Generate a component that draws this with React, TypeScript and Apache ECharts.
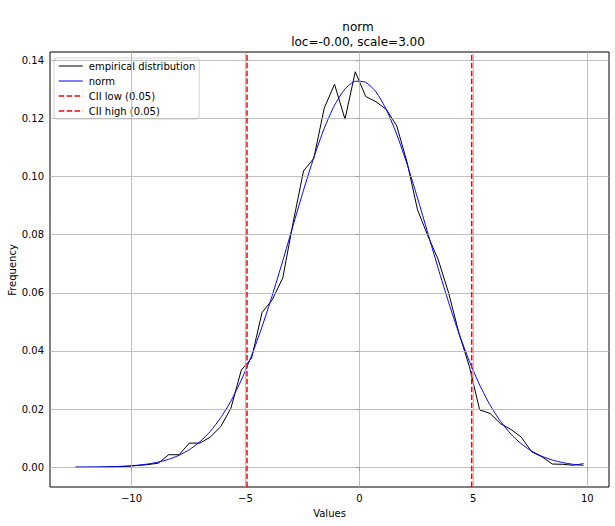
import { useEffect, useRef } from 'react';
import * as echarts from 'echarts';

// Histogram bin centres (x)
const binCenters = [
  -12.46, -12.01, -11.55, -11.1, -10.64, -10.19, -9.73, -9.28, -8.82, -8.37,
  -7.91, -7.46, -7.0, -6.55, -6.09, -5.64, -5.18, -4.73, -4.27, -3.82,
  -3.36, -2.91, -2.45, -2.0, -1.54, -1.09, -0.63, -0.18, 0.28, 0.73,
  1.19, 1.64, 2.1, 2.55, 3.01, 3.46, 3.92, 4.37, 4.83, 5.28,
  5.74, 6.19, 6.65, 7.1, 7.56, 8.01, 8.47, 8.92, 9.38, 9.84,
];

// Empirical distribution (black line)
const empirical = [
  0.0, 0.0, 0.0, 0.0001, 0.0002, 0.0003, 0.0006, 0.0009, 0.0014, 0.0043,
  0.0043, 0.0083, 0.0083, 0.0103, 0.0139, 0.0202, 0.0334, 0.0375, 0.0532, 0.0576,
  0.0651, 0.084, 0.1019, 0.1062, 0.1235, 0.1317, 0.1197, 0.136, 0.1275, 0.1257,
  0.123, 0.1174, 0.1047, 0.0886, 0.0795, 0.0714, 0.0599, 0.0461, 0.0346, 0.0197,
  0.0185, 0.015, 0.013, 0.0104, 0.0053, 0.0036, 0.0011, 0.001, 0.0007, 0.0012,
];

// Fitted normal curve (blue line), read at the same x values
const normCurve = [
  0.00002, 0.00004, 0.00008, 0.00014, 0.00025, 0.00042, 0.00069, 0.00111, 0.00177, 0.00271,
  0.00411, 0.00604, 0.00874, 0.01226, 0.01694, 0.02271, 0.02995, 0.03837, 0.0483, 0.05912,
  0.07102, 0.08307, 0.09527, 0.10648, 0.11656, 0.12449, 0.13008, 0.13274, 0.1324, 0.1291,
  0.1229, 0.1145, 0.1041, 0.09266, 0.08039, 0.06838, 0.05662, 0.04603, 0.03638, 0.02826,
  0.02133, 0.01582, 0.0114, 0.00808, 0.00556, 0.00376, 0.00247, 0.0016, 0.001, 0.00061,
];

const ciiLow = -4.93;
const ciiHigh = 4.93;

const xTicks = [-10, -5, 0, 5, 10];
const yTicks = [0, 0.02, 0.04, 0.06, 0.08, 0.1, 0.12, 0.14];

const xMin = -13.575;
const xMax = 10.955;
const yMin = -0.0068;
const yMax = 0.1428;

const FONT = 'DejaVu Sans';

export default function App() {
  const ref = useRef<HTMLDivElement>(null);

  useEffect(() => {
    document.body.style.margin = '0';
    document.body.style.background = '#ffffff';
    if (!ref.current) return;
    const chart = echarts.init(ref.current, undefined, { renderer: 'svg' });

    const fmtX = (v: number) => (v < 0 ? '\u2212' + Math.abs(v) : String(v));

    const option: any = {
      animation: false,
      backgroundColor: '#ffffff',
      textStyle: { fontFamily: FONT, color: '#000' },
      grid: {
        left: 50,
        right: 6,
        top: 52,
        bottom: 39,
        containLabel: false,
        outerBoundsMode: 'none',
        show: true,
        borderColor: '#000',
        borderWidth: 1,
        backgroundColor: 'transparent',
      },
      graphic: [
        {
          type: 'text',
          x: 358,
          y: 27,
          style: {
            text: 'norm',
            fontFamily: FONT,
            fontSize: 12,
            fill: '#000',
            textAlign: 'center',
            textVerticalAlign: 'middle',
          },
        },
        {
          type: 'text',
          x: 358,
          y: 42,
          style: {
            text: 'loc=-0.00, scale=3.00',
            fontFamily: FONT,
            fontSize: 12,
            fill: '#000',
            textAlign: 'center',
            textVerticalAlign: 'middle',
          },
        },
        {
          type: 'text',
          x: 12,
          y: 270,
          rotation: Math.PI / 2,
          style: {
            text: 'Frequency',
            fontFamily: FONT,
            fontSize: 10,
            fill: '#000',
            textAlign: 'center',
            textVerticalAlign: 'middle',
          },
        },
      ],
      legend: {
        data: [
          { name: 'empirical distribution', lineStyle: { width: 1 } },
          { name: 'norm', lineStyle: { width: 1 } },
          { name: 'CII low (0.05)', lineStyle: { width: 1.5 } },
          { name: 'CII high (0.05)', lineStyle: { width: 1.5 } },
        ],
        orient: 'vertical',
        left: 54,
        top: 58,
        itemWidth: 24,
        itemHeight: 10,
        itemGap: 5,
        padding: [3, 4, 3, 4],
        backgroundColor: 'rgba(255,255,255,0.85)',
        borderColor: '#d9d0d9',
        borderWidth: 1,
        borderRadius: 3,
        itemStyle: { opacity: 0 },
        textStyle: { fontFamily: FONT, fontSize: 10, color: '#000', padding: [0, 0, 0, 1] },
      },
      xAxis: {
        type: 'value',
        min: xMin,
        max: xMax,
        axisLine: { show: false },
        splitLine: { show: false },
        axisTick: {
          show: true,
          customValues: xTicks,
          length: 3.5,
          lineStyle: { color: '#000', width: 0.8 },
        },
        axisLabel: {
          customValues: xTicks,
          formatter: fmtX,
          fontFamily: FONT,
          fontSize: 10,
          color: '#000',
          margin: 6,
        },
        name: 'Values',
        nameLocation: 'middle',
        nameGap: 21,
        nameTextStyle: { fontFamily: FONT, fontSize: 10, color: '#000' },
      },
      yAxis: {
        type: 'value',
        min: yMin,
        max: yMax,
        axisLine: { show: false },
        splitLine: { show: false },
        axisTick: {
          show: true,
          customValues: yTicks,
          length: 3.5,
          lineStyle: { color: '#000', width: 0.8 },
        },
        axisLabel: {
          customValues: yTicks,
          formatter: (v: number) => v.toFixed(2),
          fontFamily: FONT,
          fontSize: 10,
          color: '#000',
          margin: 6,
        },
      },
      series: [
        {
          name: '__grid',
          type: 'line',
          data: [[xMin, yMin]],
          showSymbol: false,
          symbol: 'none',
          lineStyle: { opacity: 0 },
          silent: true,
          z: 1,
          markLine: {
            silent: true,
            symbol: ['none', 'none'],
            label: { show: false },
            lineStyle: { color: '#b0b0b0', width: 0.8, type: 'solid' },
            emphasis: { disabled: true },
            data: [
              ...xTicks.map((v) => ({ xAxis: v })),
              ...yTicks.map((v) => ({ yAxis: v })),
            ],
          },
        },
        {
          name: 'empirical distribution',
          type: 'line',
          data: binCenters.map((x, i) => [x, empirical[i]]),
          symbol: 'none',
          color: '#000000',
          lineStyle: { color: '#000000', width: 1 },
          z: 3,
        },
        {
          name: 'norm',
          type: 'line',
          data: binCenters.map((x, i) => [x, normCurve[i]]),
          symbol: 'none',
          smooth: 0.2,
          color: '#0000ff',
          lineStyle: { color: '#0000ff', width: 1 },
          z: 4,
        },
        {
          name: 'CII low (0.05)',
          type: 'line',
          data: [
            [ciiLow, yMin],
            [ciiLow, yMax],
          ],
          symbol: 'none',
          color: '#ff0000',
          lineStyle: { color: '#ff0000', width: 1.5, type: [5.5, 2.4] },
          z: 5,
        },
        {
          name: 'CII high (0.05)',
          type: 'line',
          data: [
            [ciiHigh, yMin],
            [ciiHigh, yMax],
          ],
          symbol: 'none',
          color: '#ff0000',
          lineStyle: { color: '#ff0000', width: 1.5, type: [5.5, 2.4] },
          z: 5,
        },
      ],
    };

    chart.setOption(option);
    return () => chart.dispose();
  }, []);

  return <div ref={ref} style={{ width: 615, height: 526 }} />;
}
